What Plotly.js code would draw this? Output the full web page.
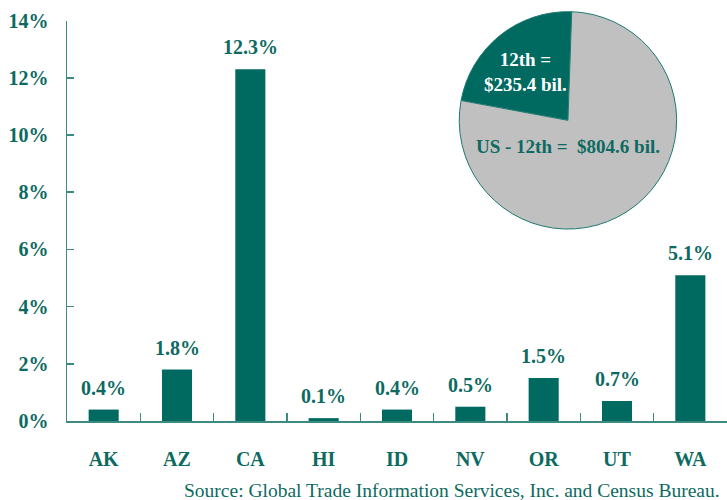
<!DOCTYPE html>
<html>
<head>
<meta charset="utf-8">
<script src="https://cdn.plot.ly/plotly-3.0.1.min.js"></script>
<style>html,body{margin:0;padding:0;background:#fff;}#chart{width:727px;height:500px;}</style>
</head>
<body>
<div id="chart"></div>
<script>
const states = ["AK", "AZ", "CA", "HI", "ID", "NV", "OR", "UT", "WA"];
const shares = [0.4, 1.8, 12.3, 0.1, 0.4, 0.5, 1.5, 0.7, 5.1];
const pieLabels = ["12th", "US - 12th"];
const pieValues = [235.4, 804.6];
const pieTexts = ["12th =<br>$235.4 bil.", "US - 12th =  $804.6 bil."];
const sourceText = "Source: Global Trade Information Services, Inc. and Census Bureau.";

const teal = "#006A60";
const tealText = "#0D6A61";
const axisCol = "#3C8A82";
const serif = "Liberation Serif, Times New Roman, serif";

const bars = {
  type: "bar",
  x: states,
  y: shares,
  width: 0.41,
  marker: {color: teal},
  hoverinfo: "none",
  showlegend: false
};

const pieTotal = pieValues.reduce((a, b) => a + b, 0);
const pie = {
  type: "pie",
  labels: pieLabels,
  values: pieValues,
  sort: false,
  direction: "clockwise",
  // dark slice ends just right of 12 o'clock, extending counterclockwise
  rotation: 2 - 360 * pieValues[0] / pieTotal,
  textinfo: "none",
  marker: {colors: [teal, "#C0C0C0"], line: {color: "#1E7A70", width: 1}},
  domain: {x: [0.594, 0.924], y: [0.467, 0.996]},
  hoverinfo: "none",
  showlegend: false
};

const barLabels = states.map((s, i) => ({
  xref: "x", yref: "y", x: s, y: shares[i],
  text: shares[i].toFixed(1) + "%",
  showarrow: false, xanchor: "center", yanchor: "bottom", yshift: 9,
  font: {family: serif, size: 20, color: tealText, weight: "bold"}
}));

const layout = {
  width: 727,
  height: 500,
  margin: {l: 67, r: 0, t: 10, b: 79},
  paper_bgcolor: "#ffffff",
  plot_bgcolor: "#ffffff",
  font: {family: serif, color: tealText},
  xaxis: {
    type: "category",
    range: [-0.5, 8.5],
    showline: true, linecolor: axisCol, linewidth: 1.5,
    ticks: "inside", tickson: "boundaries", ticklen: 8, tickcolor: axisCol, tickwidth: 1.5,
    tickfont: {family: serif, size: 20, color: tealText, weight: "bold"},
    ticklabelstandoff: 19,
    showgrid: false, zeroline: false, fixedrange: true
  },
  yaxis: {
    domain: [0, 0.974],
    range: [0, 14],
    tickvals: [0, 2, 4, 6, 8, 10, 12, 14],
    ticktext: ["0%", "2%", "4%", "6%", "8%", "10%", "12%", "14%"],
    showline: true, linecolor: axisCol, linewidth: 1.5,
    ticks: "inside", ticklen: 7, tickcolor: axisCol, tickwidth: 1.5,
    tickfont: {family: serif, size: 20, color: tealText, weight: "bold"},
    ticklabelstandoff: 13,
    showgrid: false, zeroline: false, fixedrange: true
  },
  annotations: barLabels.concat([
    {xref: "paper", yref: "paper", x: 0.694, y: 0.849, xanchor: "center", yanchor: "middle",
     text: pieTexts[0], showarrow: false,
     font: {family: serif, size: 19, color: "#ffffff", weight: "bold"}, align: "center"},
    {xref: "paper", yref: "paper", x: 0.759, y: 0.667, xanchor: "center", yanchor: "middle",
     text: pieTexts[1], showarrow: false,
     font: {family: serif, size: 19, color: tealText, weight: "bold"}, align: "center"},
    {xref: "paper", yref: "paper", x: 0.992, y: -0.168, xanchor: "right", yanchor: "middle",
     text: sourceText, showarrow: false,
     font: {family: serif, size: 19.5, color: tealText}}
  ])
};

Plotly.newPlot("chart", [bars, pie], layout, {displayModeBar: false, staticPlot: true});
</script>
</body>
</html>
